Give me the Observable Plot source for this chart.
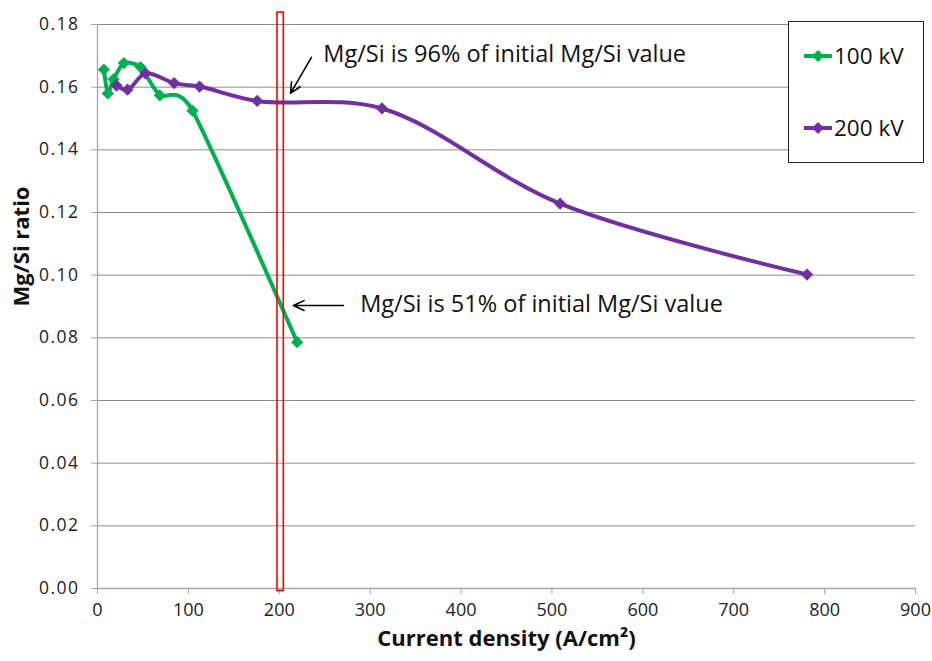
<!DOCTYPE html>
<html>
<head>
<meta charset="utf-8">
<script src="https://cdn.jsdelivr.net/npm/d3@7"></script>
<script src="https://cdn.jsdelivr.net/npm/@observablehq/plot@0.6"></script>
<style>
  html, body { margin: 0; padding: 0; background: #fff; }
  #wrap { position: relative; width: 932px; height: 661px; }
  #legend { position: absolute; left: 788px; top: 21px; width: 136px; height: 142px; border: 1.3px solid #222; background: #fff; box-sizing: border-box; font-family: "Open Sans", "Liberation Sans", sans-serif; font-size: 22.5px; color: #111; }
  .item { position: absolute; left: 14px; display: flex; align-items: center; gap: 1px; }
  g[aria-label="y-axis tick label"] text { letter-spacing: 1.5px; }
</style>
</head>
<body>
<div id="wrap"></div>
<script>
// ---- data ----
const xTicks = [0, 100, 200, 300, 400, 500, 600, 700, 800, 900];
const yTicks = [0, 0.02, 0.04, 0.06, 0.08, 0.10, 0.12, 0.14, 0.16, 0.18];

const seriesNames = ["100 kV", "200 kV"];
const seriesColors = ["#00B050", "#7030A0"];

const kv100_x = [7, 11.3, 17.6, 29, 47.3, 68.5, 104.5, 219.7];
const kv100_y = [0.1656, 0.158, 0.1625, 0.1677, 0.1664, 0.1574, 0.1525, 0.0786];

const kv200_x = [20.9, 33, 52.8, 84.3, 112.3, 175.7, 313, 509, 780.7];
const kv200_y = [0.1605, 0.1592, 0.1644, 0.1613, 0.1602, 0.1556, 0.1532, 0.1228, 0.1002];

// highlight box around 200 A/cm2
const boxX1 = [198], boxX2 = [205], boxY1 = [-0.0008], boxY2 = [0.1838];

// annotations
const noteText = ["Mg/Si is 96% of initial Mg/Si value", "Mg/Si is 51% of initial Mg/Si value"];
const noteX = [248.5, 289];
const noteY = [0.1703, 0.0906];
const arrowX1 = [235.4, 270.6], arrowY1 = [0.1695, 0.0903];
const arrowX2 = [212.3, 215.6], arrowY2 = [0.158, 0.0903];

// ---- build ----
const s100 = kv100_x.map((x, i) => ({x, y: kv100_y[i]}));
const s200 = kv200_x.map((x, i) => ({x, y: kv200_y[i]}));
const notes = noteText.map((t, i) => ({t, x: noteX[i], y: noteY[i]}));
const arrows = arrowX1.map((x1, i) => ({x1, y1: arrowY1[i], x2: arrowX2[i], y2: arrowY2[i]}));
const box = boxX1.map((x1, i) => ({x1, x2: boxX2[i], y1: boxY1[i], y2: boxY2[i]}));

const chart = Plot.plot({
  width: 932,
  height: 661,
  marginLeft: 97,
  marginRight: 17,
  marginTop: 24,
  marginBottom: 73,
  style: { fontFamily: "'Open Sans', 'Liberation Sans', sans-serif", background: "#fff", overflow: "visible" },
  x: { domain: [0, 900] },
  y: { domain: [0, 0.18] },
  marks: [
    Plot.gridY(yTicks, { stroke: "#8c8c8c", strokeOpacity: 1, strokeWidth: 1 }),
    Plot.ruleX([0], { stroke: "#a6a6a6", strokeWidth: 1.3 }),
    Plot.ruleY([0], { stroke: "#a6a6a6", strokeWidth: 1.3 }),
    Plot.axisY({ ticks: yTicks, tickFormat: d3.format(".2f"), tickSize: 6, tickPadding: 12, stroke: "#a6a6a6", color: "#222", fontSize: 17.5, label: null }),
    Plot.axisX({ ticks: xTicks, tickFormat: d3.format("d"), tickSize: 6, tickPadding: 9, stroke: "#a6a6a6", color: "#222", fontSize: 18, label: null }),
    Plot.text(["Current density (A/cm²)"], { frameAnchor: "bottom", dy: 57, fontSize: 22, fontWeight: "bold", fill: "#111" }),
    Plot.text(["Mg/Si ratio"], { frameAnchor: "left", dx: -76, rotate: -90, fontSize: 22, fontWeight: "bold", fill: "#111" }),
    Plot.line(s100, { x: "x", y: "y", stroke: seriesColors[0], strokeWidth: 4, curve: "cardinal", tension: 0.35 }),
    Plot.dot(s100, { x: "x", y: "y", symbol: "diamond2", r: 5.5, fill: seriesColors[0], stroke: "none" }),
    Plot.line(s200, { x: "x", y: "y", stroke: seriesColors[1], strokeWidth: 4, curve: "catmull-rom" }),
    Plot.dot(s200, { x: "x", y: "y", symbol: "diamond2", r: 5.5, fill: seriesColors[1], stroke: "none" }),
    Plot.rect(box, { x1: "x1", x2: "x2", y1: "y1", y2: "y2", fill: "none", stroke: "#ff0000", strokeWidth: 1.6 }),
    Plot.arrow(arrows, { x1: "x1", y1: "y1", x2: "x2", y2: "y2", stroke: "#000", strokeWidth: 1.6, headLength: 11, headAngle: 50 }),
    Plot.text(notes, { x: "x", y: "y", text: "t", textAnchor: "start", fontSize: 23.5, fill: "#111" })
  ]
});
const wrap = document.getElementById("wrap");
wrap.appendChild(chart);

// legend
const leg = document.createElement("div");
leg.id = "legend";
seriesNames.forEach((name, i) => {
  const it = document.createElement("div");
  it.className = "item";
  it.style.top = (i === 0 ? 18 : 90) + "px";
  it.innerHTML = `<svg width="30" height="16"><line x1="1" y1="8" x2="29" y2="8" stroke="${seriesColors[i]}" stroke-width="4"/><path d="M15,2 L21,8 L15,14 L9,8 Z" fill="${seriesColors[i]}"/></svg><span>${name}</span>`;
  leg.appendChild(it);
});
wrap.appendChild(leg);
</script>
</body>
</html>
